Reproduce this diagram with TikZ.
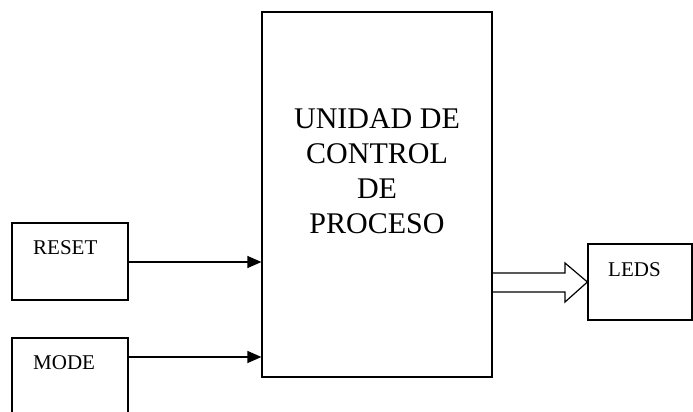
\documentclass[tikz,border=0pt]{standalone}
\usepackage{fontspec}
\setmainfont{Liberation Serif}
\usetikzlibrary{arrows.meta}
\tikzset{
  blockbox/.style={draw, line width=1.2pt, rectangle, inner sep=0pt},
  smalltext/.style={font=\fontsize{21}{24}\selectfont, inner sep=0pt, anchor=base west},
  bigtext/.style={font=\fontsize{30}{35}\selectfont, inner sep=0pt, align=center},
  sigline/.style={line width=1.2pt, -{Triangle[length=14pt,width=12pt]}},
  busarrow/.style={line width=1.2pt, line join=miter}
}
\begin{document}
\begin{tikzpicture}[x=1pt,y=-1pt]
  \useasboundingbox (0,0) rectangle (693,412);
  \clip (0,0) rectangle (693,412);

  % control unit
  \node[blockbox, minimum width=230pt, minimum height=365pt] (main) at (377,194.5) {};
  \node[bigtext] (maintxt) at (377,171) {UNIDAD DE\\CONTROL\\DE\\PROCESO};

  % input blocks
  \node[blockbox, minimum width=116pt, minimum height=77pt] (reset) at (70,261.5) {};
  \node[smalltext] (resettxt) at (33,254) {RESET};
  \node[blockbox, minimum width=116pt, minimum height=77pt] (mode) at (70,376.5) {};
  \node[smalltext] (modetxt) at (33,369) {MODE};

  % output block
  \node[blockbox, minimum width=104pt, minimum height=76pt] (leds) at (640,282) {};
  \node[smalltext] (ledstxt) at (608,276) {LEDS};

  % input signals
  \coordinate (resetout) at (128,262);
  \coordinate (modeout) at (128,357);
  \draw[sigline] (resetout) -- (resetout -| main.west);
  \draw[sigline] (modeout) -- (modeout -| main.west);

  % output bus (hollow block arrow)
  \coordinate (busA) at (main.east |- 0,273);
  \coordinate (busB) at (main.east |- 0,292);
  \draw[busarrow] (busA) -- (565,273) -- (565,263) -- (leds.west) -- (565,302) -- (565,292) -- (busB);
\end{tikzpicture}
\end{document}
